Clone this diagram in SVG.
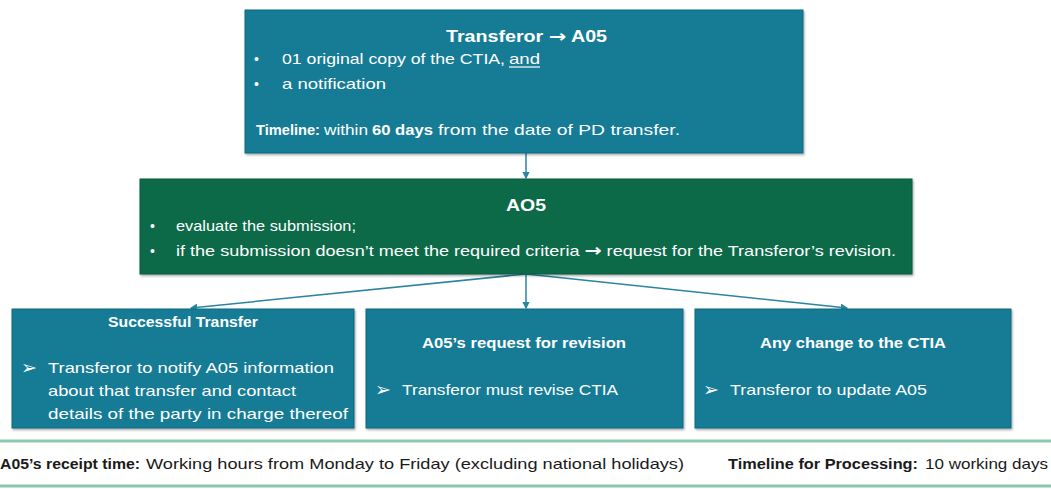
<svg xmlns="http://www.w3.org/2000/svg" width="1051" height="489" viewBox="0 0 1051 489">
  <defs>
    <marker id="arr" viewBox="0 0 6 6" refX="5" refY="3" markerWidth="5" markerHeight="5" orient="auto">
      <path d="M0,0 L6,3 L0,6 z" fill="#2b84a3"/>
    </marker>
    <filter id="sh" x="-5%" y="-5%" width="110%" height="115%">
      <feDropShadow dx="1" dy="1.5" stdDeviation="1.2" flood-color="#000" flood-opacity="0.35"/>
    </filter>
  </defs>
  <style>
    .teal { fill: #137c95; stroke: #0f6a80; stroke-width: 1; }
    .green { fill: #0c6b4a; stroke: #095a3e; stroke-width: 1; }
    text { font-family: "Liberation Sans", Arial, sans-serif; fill: #ffffff; font-size: 15px; }
    .b { font-weight: bold; }
    .t { font-weight: bold; font-size: 16px; }
    .dot { font-size: 14px; }
    .ar { font-family: "DejaVu Sans", sans-serif; font-weight: bold; font-size: 17px; }
    .chev { font-family: "DejaVu Sans", sans-serif; font-size: 19px; }
    .foot { fill: #1a1a1a; font-size: 14.5px; }
    .conn { stroke: #2b84a3; stroke-width: 1.5; fill: none; }
    .band { stroke: #8cc7ad; stroke-width: 3; }
  </style>

  <rect width="1051" height="489" fill="#ffffff"/>

  <!-- connectors -->
  <g id="connectors">
    <line class="conn" x1="526" y1="153" x2="526" y2="178" marker-end="url(#arr)"/>
    <line class="conn" x1="526" y1="274" x2="191" y2="308" marker-end="url(#arr)"/>
    <line class="conn" x1="526" y1="274" x2="526" y2="308" marker-end="url(#arr)"/>
    <line class="conn" x1="526" y1="274" x2="847" y2="308" marker-end="url(#arr)"/>
  </g>

  <!-- sender box -->
  <g id="node-transferor">
    <rect class="teal" x="245" y="10" width="558" height="143" filter="url(#sh)"/>
    <text class="t" x="446" y="42" textLength="161" lengthAdjust="spacingAndGlyphs">Transferor <tspan class="ar">→</tspan> A05</text>
    <text class="dot" x="254" y="64">•</text>
    <text x="282" y="64" textLength="223" lengthAdjust="spacingAndGlyphs">01 original copy of the CTIA,</text>
    <text x="509" y="64" textLength="31" lengthAdjust="spacingAndGlyphs">and</text>
    <line x1="509" y1="67" x2="540" y2="67" stroke="#ffffff" stroke-width="1.2"/>
    <text class="dot" x="254" y="89">•</text>
    <text x="282" y="89" textLength="104" lengthAdjust="spacingAndGlyphs">a notification</text>
    <text class="b" x="256" y="135" textLength="64" lengthAdjust="spacingAndGlyphs">Timeline:</text>
    <text x="324" y="135" textLength="44" lengthAdjust="spacingAndGlyphs">within</text>
    <text class="b" x="372" y="135" textLength="61" lengthAdjust="spacingAndGlyphs">60 days</text>
    <text x="438" y="135" textLength="242" lengthAdjust="spacingAndGlyphs">from the date of PD transfer.</text>
  </g>

  <!-- evaluation box -->
  <g id="node-ao5">
    <rect class="green" x="140" y="179" width="772" height="95" filter="url(#sh)"/>
    <text class="t" x="506" y="211" textLength="40" lengthAdjust="spacingAndGlyphs">AO5</text>
    <text class="dot" x="150" y="231">•</text>
    <text x="176" y="231" textLength="180" lengthAdjust="spacingAndGlyphs">evaluate the submission;</text>
    <text class="dot" x="150" y="256">•</text>
    <text x="176" y="256" textLength="720" lengthAdjust="spacingAndGlyphs">if the submission doesn’t meet the required criteria <tspan class="ar" font-size="16">→</tspan> request for the Transferor’s revision.</text>
  </g>

  <!-- outcome boxes -->
  <g id="node-success">
    <rect class="teal" x="12" y="309" width="342" height="119" filter="url(#sh)"/>
    <text class="b" x="108" y="327" textLength="150" lengthAdjust="spacingAndGlyphs">Successful Transfer</text>
    <text class="chev" x="21" y="374">➢</text>
    <text x="48" y="373" textLength="286" lengthAdjust="spacingAndGlyphs">Transferor to notify A05 information</text>
    <text x="48" y="396" textLength="248" lengthAdjust="spacingAndGlyphs">about that transfer and contact</text>
    <text x="48" y="419" textLength="300" lengthAdjust="spacingAndGlyphs">details of the party in charge thereof</text>
  </g>

  <g id="node-revision">
    <rect class="teal" x="366" y="309" width="317" height="119" filter="url(#sh)"/>
    <text class="b" x="422" y="348" textLength="204" lengthAdjust="spacingAndGlyphs">A05’s request for revision</text>
    <text class="chev" x="375" y="396">➢</text>
    <text x="402" y="395" textLength="216" lengthAdjust="spacingAndGlyphs">Transferor must revise CTIA</text>
  </g>

  <g id="node-change">
    <rect class="teal" x="695" y="309" width="316" height="119" filter="url(#sh)"/>
    <text class="b" x="760" y="348" textLength="186" lengthAdjust="spacingAndGlyphs">Any change to the CTIA</text>
    <text class="chev" x="703" y="396">➢</text>
    <text x="730" y="395" textLength="197" lengthAdjust="spacingAndGlyphs">Transferor to update A05</text>
  </g>

  <!-- footer band -->
  <g id="footer">
    <line class="band" x1="0" y1="441" x2="1051" y2="441"/>
    <line class="band" x1="0" y1="486" x2="1051" y2="486"/>
    <text class="foot b" x="0" y="469" textLength="140" lengthAdjust="spacingAndGlyphs">A05’s receipt time:</text>
    <text class="foot" x="146" y="469" textLength="538" lengthAdjust="spacingAndGlyphs">Working hours from Monday to Friday (excluding national holidays)</text>
    <text class="foot b" x="728" y="469" textLength="190" lengthAdjust="spacingAndGlyphs">Timeline for Processing:</text>
    <text class="foot" x="925" y="469" textLength="123" lengthAdjust="spacingAndGlyphs">10 working days</text>
  </g>
</svg>
